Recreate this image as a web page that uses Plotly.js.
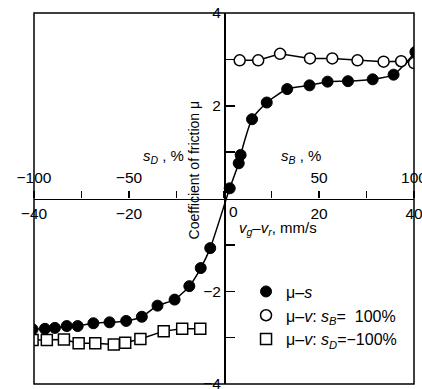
<!DOCTYPE html>
<html>
<head>
<meta charset="utf-8">
<script src="https://cdn.plot.ly/plotly-3.0.1.min.js"></script>
<style>html,body{margin:0;padding:0;background:#fff;}#chart{width:422px;height:389px;}</style>
</head>
<body>
<div id="chart"></div>
<script>
// mu-s (filled circles): slip velocity v_g - v_r (mm/s) vs friction coefficient
const muS_v = [-40.3, -37.7, -35.6, -33.1, -30.8, -27.5, -24.1, -20.6, -17.3, -14.0, -10.4, -7.3, -4.9, -2.9, 1.2, 3.1, 3.5, 5.9, 9.0, 13.3, 18.0, 21.8, 26.1, 31.3, 35.7, 40.3];
const muS_mu = [-2.82, -2.81, -2.79, -2.75, -2.75, -2.69, -2.67, -2.64, -2.55, -2.31, -2.18, -1.89, -1.50, -1.07, 0.22, 0.76, 0.94, 1.71, 2.07, 2.36, 2.44, 2.52, 2.53, 2.57, 2.67, 3.16];
// mu-v, s_B = 100% (open circles)
const muVB_v = [3.3, 7.2, 11.8, 18.1, 22.8, 28.1, 33.6, 37.3, 40.0];
const muVB_mu = [2.98, 2.98, 3.12, 3.02, 3.02, 2.98, 2.95, 2.96, 2.92];
// mu-v, s_D = -100% (open squares)
const muVD_v = [-40.3, -37.3, -33.7, -30.6, -27.1, -23.2, -20.8, -17.6, -12.7, -8.8, -5.0];
const muVD_mu = [-3.05, -3.05, -3.04, -3.12, -3.12, -3.15, -3.11, -3.03, -2.86, -2.81, -2.81];

const vTicks = [-40, -20, 20, 40];
const vTickText = ['\u221240', '\u221220', '20', '40'];
const sTicks = [-100, -75, -50, -25, 0, 25, 50, 75, 100];
const sTickText = ['\u2212100', '', '\u221250', '', '', '', '50', '', '100'];
const muTicks = [-4, -3, -2, -1, 1, 2, 3, 4];
const muTickText = ['\u22124', '', '\u22122', '', '', '2', '', '4'];

const FONT = 'Liberation Sans, Arial, sans-serif';
const TF = 15.5;
const traces = [
  {x: muS_v, y: muS_mu, mode: 'lines', line: {color: '#000', width: 1.5, shape: 'spline', smoothing: 0.6}, showlegend: false, hoverinfo: 'skip'},
  {x: muVB_v, y: muVB_mu, mode: 'lines', line: {color: '#000', width: 1.5}, showlegend: false, hoverinfo: 'skip'},
  {x: muVD_v, y: muVD_mu, mode: 'lines', line: {color: '#000', width: 1.5}, showlegend: false, hoverinfo: 'skip'},
  {x: muS_v, y: muS_mu, mode: 'markers', name: '\u03bc\u2013<i>s</i>',
   marker: {symbol: 'circle', size: 11, color: '#000', line: {color: '#000', width: 1}}},
  {x: muVB_v, y: muVB_mu, mode: 'markers', name: '\u03bc\u2013<i>v</i>: <i>s<sub>B</sub></i>=  100%',
   marker: {symbol: 'circle', size: 11, color: '#fff', line: {color: '#000', width: 1.5}}},
  {x: muVD_v, y: muVD_mu, mode: 'markers', name: '\u03bc\u2013<i>v</i>: <i>s<sub>D</sub></i>=\u2212100%',
   marker: {symbol: 'square', size: 11, color: '#fff', line: {color: '#000', width: 1.5}}},
  // helper trace that activates the slip-ratio axis (no visible marks)
  {x: [-100, 100], y: [null, null], xaxis: 'x2', yaxis: 'y2', mode: 'markers', showlegend: false, hoverinfo: 'skip'}
];

const layout = {
  width: 422, height: 389,
  margin: {l: 34, r: 8, t: 13, b: 5},
  paper_bgcolor: '#fff', plot_bgcolor: 'rgba(0,0,0,0)',
  font: {family: FONT, size: 15, color: '#000'},
  showlegend: true,
  legend: {x: 0.558, y: 0.295, xanchor: 'left', yanchor: 'top', bgcolor: 'rgba(0,0,0,0)', font: {size: 16}},
  xaxis: {range: [-40, 40], domain: [0, 1], anchor: 'free', position: 0.5, showline: true, linecolor: '#000', linewidth: 1.5,
          ticks: '', tickvals: vTicks, ticktext: vTickText,
          ticklabeloverflow: 'allow', showgrid: false, zeroline: false, tickfont: {size: TF}},
  xaxis2: {range: [-100, 100], domain: [0, 1], anchor: 'y2', side: 'top', showline: false,
           ticks: 'outside', ticklen: 7, tickwidth: 1.5, tickcolor: '#000', tickvals: sTicks, ticktext: sTickText,
           ticklabelstandoff: 1, ticklabeloverflow: 'allow',
           showgrid: false, zeroline: false, tickfont: {size: TF}},
  yaxis: {range: [-4, 4], domain: [0, 1], anchor: 'free', position: 0.5, showline: true, linecolor: '#000', linewidth: 1.5,
          ticks: 'inside', ticklen: 9, tickwidth: 1.5, tickcolor: '#000', tickvals: muTicks, ticktext: muTickText,
          ticklabeloverflow: 'allow', showgrid: false, zeroline: false, tickfont: {size: TF}},
  yaxis2: {range: [0, 1], domain: [0, 0.5], anchor: 'x2', visible: false, showgrid: false, zeroline: false},
  shapes: [{type: 'rect', xref: 'paper', yref: 'paper', x0: 0, x1: 1, y0: 0, y1: 1, line: {color: '#000', width: 1.5}}],
  annotations: [
    {text: '<i>s<sub>D</sub></i> , %', xref: 'paper', yref: 'paper', x: 0.282, y: 0.612, showarrow: false, font: {size: 15}},
    {text: '<i>s<sub>B</sub></i> , %', xref: 'paper', yref: 'paper', x: 0.76, y: 0.612, showarrow: false, font: {size: 15}},
    {text: '<i>v<sub>g</sub></i>\u2013<i>v<sub>r</sub></i>, mm/s', xref: 'paper', yref: 'paper', x: 0.75, y: 0.418, showarrow: false, font: {size: 15}},
    {text: '0', xref: 'paper', yref: 'paper', x: 0.524, y: 0.466, showarrow: false, font: {size: TF}},
    {text: 'Coefficient of friction \u03bc', xref: 'paper', yref: 'paper', x: 0.421, y: 0.771, textangle: -90, showarrow: false, font: {size: 14}}
  ]
};
Plotly.newPlot('chart', traces, layout, {displayModeBar: false, staticPlot: true});
</script>
</body>
</html>
